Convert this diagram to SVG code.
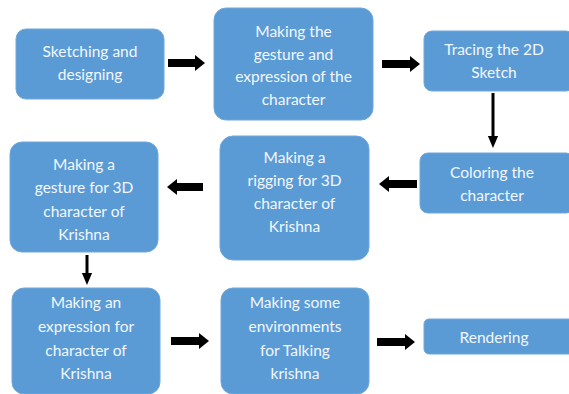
<svg xmlns="http://www.w3.org/2000/svg" width="569" height="394" viewBox="0 0 569 394">
<style>
.box{fill:#5b9bd5;stroke:#6fa7da;stroke-width:1}
.t{font-family:Lato,"Open Sans","Liberation Sans",sans-serif;font-size:15.5px;fill:#f2f7fc;text-anchor:middle}
.ar{fill:#000}
.vl{stroke:#000;stroke-width:3}
</style>
<defs>
<marker id="vh" markerWidth="4" markerHeight="4" refX="2" refY="2" orient="auto" markerUnits="strokeWidth">
<path d="M0,0.3 L4,2 L0,3.7 Z" fill="#000"/>
</marker>
</defs>
<rect width="569" height="394" fill="#fff"/>
<g id="n1"><rect class="box" x="16" y="29" width="148" height="70" rx="10"/><text class="t" x="90" y="57">Sketching and</text><text class="t" x="90" y="80">designing</text></g>
<g id="n2"><rect class="box" x="214" y="8" width="159" height="112" rx="12"/><text class="t" x="293.5" y="37">Making the</text><text class="t" x="293.5" y="60">gesture and</text><text class="t" x="293.5" y="82">expression of the</text><text class="t" x="293.5" y="105">character</text></g>
<g id="n3"><rect class="box" x="424" y="31" width="150" height="60" rx="8"/><text class="t" x="494" y="55">Tracing the 2D</text><text class="t" x="494" y="78">Sketch</text></g>
<g id="n4"><rect class="box" x="420" y="153" width="154" height="60" rx="8"/><text class="t" x="492" y="178">Coloring the</text><text class="t" x="492" y="201">character</text></g>
<g id="n5"><rect class="box" x="220" y="136" width="149" height="124" rx="13"/><text class="t" x="294.5" y="163">Making a</text><text class="t" x="294.5" y="186">rigging for 3D</text><text class="t" x="294.5" y="209">character of</text><text class="t" x="294.5" y="232">Krishna</text></g>
<g id="n6"><rect class="box" x="10" y="142" width="148" height="110" rx="12"/><text class="t" x="84" y="170">Making a</text><text class="t" x="84" y="193">gesture for 3D</text><text class="t" x="84" y="217">character of</text><text class="t" x="84" y="240">Krishna</text></g>
<g id="n7"><rect class="box" x="12" y="288" width="148" height="106" rx="12"/><text class="t" x="86" y="308">Making an</text><text class="t" x="86" y="332">expression for</text><text class="t" x="86" y="356">character of</text><text class="t" x="86" y="379">Krishna</text></g>
<g id="n8"><rect class="box" x="221" y="288" width="148" height="106" rx="12"/><text class="t" x="295" y="308">Making some</text><text class="t" x="295" y="332">environments</text><text class="t" x="295" y="356">for Talking</text><text class="t" x="295" y="379">krishna</text></g>
<g id="n9"><rect class="box" x="424" y="319" width="150" height="35" rx="5"/><text class="t" x="494" y="343">Rendering</text></g>
<g id="connectors">
<path class="ar" d="M168,59 H195 V55 L205,63 L195,71 V67 H168 Z"/>
<path class="ar" d="M382,60 H410 V56 L420,64 L410,72 V68 H382 Z"/>
<path class="ar" d="M417,180 H389 V176 L379,184 L389,192 V188 H417 Z"/>
<path class="ar" d="M203,183 H177 V179 L167,187 L177,195 V191 H203 Z"/>
<path class="ar" d="M171,337 H199 V333 L209,341 L199,349 V345 H171 Z"/>
<path class="ar" d="M377,338 H405 V334 L415,342 L405,350 V346 H377 Z"/>
<line class="vl" x1="493" y1="93" x2="493" y2="142" marker-end="url(#vh)"/>
<line class="vl" x1="87" y1="255" x2="87" y2="279" marker-end="url(#vh)"/>
</g>
</svg>
